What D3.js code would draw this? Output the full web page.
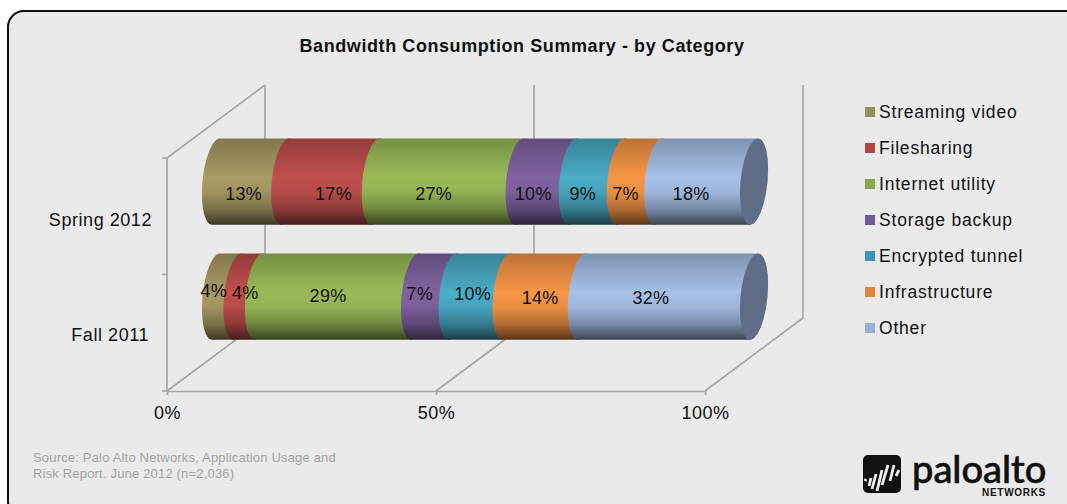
<!DOCTYPE html>
<html>
<head>
<meta charset="utf-8">
<script src="https://cdn.jsdelivr.net/npm/d3@7"></script>
<style>
  html, body { margin: 0; padding: 0; background: #fff; }
  svg { display: block; }
  text { font-family: "Liberation Sans", Arial, sans-serif; fill: #111; }
</style>
</head>
<body>
<svg id="chart" width="1067" height="504"></svg>
<script>
// Survey periods and bandwidth categories
const periods = ["Fall 2011", "Spring 2012"];
const categories = ["Streaming video", "Filesharing", "Internet utility", "Storage backup",
                    "Encrypted tunnel", "Infrastructure", "Other"];
const fall2011 = [4, 4, 29, 7, 10, 14, 32];
const spring2012 = [13, 17, 27, 10, 9, 7, 18];
const colors = ["#a99c65", "#c0504d", "#9bbb59", "#8064a2", "#4bacc6", "#f79646", "#a7c0e8"];
const legendColors = ["#98905a", "#b04744", "#8ba84f", "#73589a", "#4197b0", "#de853e", "#9bb0d6"];
const valueTicks = [0, 0.5, 1];

// Label nudges, by period and category: the percentages sit slightly off centre
const labelShiftFall = [-13, -3, -9, -14, -7, -4, -17];
const labelShiftSpring = [-7, 3, -14, -13, -14, -14, -15];
const labelDropFall = [-7, -5, -2, -4, -4, 0, 0];

const svg = d3.select("#chart");
const defs = svg.append("defs");

// Panel with a rounded outline that runs off the right and bottom edges
svg.append("rect").attr("x", 8).attr("y", 11).attr("width", 1110).attr("height", 506)
  .attr("rx", 16).attr("fill", "#eaeaea").attr("stroke", "#111").attr("stroke-width", 2);

svg.append("text").attr("x", 522).attr("y", 52).attr("text-anchor", "middle")
  .style("font-size", "18px").style("font-weight", "bold").style("letter-spacing", "0.58px")
  .text("Bandwidth Consumption Summary - by Category");

// Front plane of the 3D box, plus the depth vector toward its back plane
const floorY = 391, frontTop = 158, wallTop = 85;
const x = d3.scaleLinear().domain([0, 1]).range([167, 705]);
const y = d3.scaleBand().domain(periods).range([390.5, 160.5]).paddingInner(0.25).paddingOuter(0.125);
const depth = { dx: 98, dy: -73 };
const gridColor = "#a6a6a6";
const axisFont = '"Liberation Sans", Arial, sans-serif';

const grid = svg.append("g").attr("fill", "none").attr("stroke", gridColor).attr("stroke-width", 1.7);
valueTicks.forEach(t => {
  const fx = x(t), bx = fx + depth.dx, by = floorY + depth.dy;
  grid.append("path").attr("d", d3.line()([[fx, floorY], [bx, by], [bx, wallTop]]));
});
grid.append("path").attr("d", d3.line()([[x(0), frontTop], [x(0) + depth.dx, wallTop]]));

// Value axis along the front edge of the floor
const axisBottom = svg.append("g").attr("transform", `translate(0,${floorY})`)
  .call(d3.axisBottom(x).tickValues(valueTicks).tickFormat(d3.format(".0%")).tickSize(4).tickSizeOuter(0).tickPadding(11));
axisBottom.selectAll(".domain, line").attr("stroke", gridColor).attr("stroke-width", 1.7);
axisBottom.selectAll("text").style("font-size", "18px").style("letter-spacing", "0.5px")
  .style("font-family", axisFont).attr("fill", "#111");

// Category axis along the front left edge; ticks fall on the band boundaries
const axisLeft = svg.append("g").attr("transform", `translate(${x(0)},0)`)
  .call(d3.axisLeft(y).tickSize(0).tickPadding(15));
axisLeft.select(".domain").attr("stroke", "none");
axisLeft.selectAll("text").style("font-size", "18px").style("letter-spacing", "0.55px")
  .style("font-family", axisFont).attr("fill", "#111").attr("dy", "0.42em")
  .attr("dx", d => d === "Fall 2011" ? -3 : 0);
axisLeft.append("line").attr("y1", frontTop).attr("y2", floorY)
  .attr("stroke", gridColor).attr("stroke-width", 1.7);
const bounds = [floorY, (floorY + frontTop) / 2, frontTop];
axisLeft.selectAll("line.bound").data(bounds).join("line").attr("class", "bound")
  .attr("x1", -5).attr("x2", 0).attr("y1", d => d).attr("y2", d => d)
  .attr("stroke", gridColor).attr("stroke-width", 1.7);

// Cylinder gradient: dark rim, bright band just above the middle, dark underside
colors.forEach((c, i) => {
  const g = defs.append("linearGradient").attr("id", `cyl${i}`)
    .attr("x1", 0).attr("y1", 0).attr("x2", 0).attr("y2", 1);
  const base = d3.rgb(c);
  [[0, 0.76], [0.22, 0.88], [0.45, 1], [0.62, 0.95], [0.82, 0.72], [1, 0.36]].forEach(([o, k]) => {
    g.append("stop").attr("offset", o)
      .attr("stop-color", d3.rgb(base.r * k, base.g * k, base.b * k).formatHex());
  });
});

// Tilted ellipse outline of the cylinder's cross-section
const capRx = 13.5, capTilt = 4;
function arcPoints(cx, cy, ry, from, to) {
  return d3.range(0, 25).map(i => {
    const a = from + (to - from) * i / 24;
    return [cx + capRx * Math.cos(a) - capTilt * Math.sin(a), cy + ry * Math.sin(a)];
  });
}

const rows = [
  { period: "Fall 2011", values: fall2011, shift: labelShiftFall, drop: labelDropFall, base: 7 },
  { period: "Spring 2012", values: spring2012, shift: labelShiftSpring, drop: spring2012.map(() => 0), base: 18 }
];
const line = d3.line();
const bars = svg.append("g");
const barX = v => x(v) + depth.dx / 2;

// Each row is stacked to 100%, painted left to right so later pieces wrap over earlier ones
rows.forEach(row => {
  const total = d3.sum(row.values);
  const cum = d3.cumsum(row.values).map(v => v / total);
  const top = y(row.period) + depth.dy / 2;
  const h = y.bandwidth();
  const cy = top + h / 2;
  const g = bars.append("g");
  row.values.forEach((v, i) => {
    const x0 = barX(i ? cum[i - 1] : 0), x1 = barX(cum[i]);
    const pts = [...arcPoints(x1, cy, h / 2, -Math.PI / 2, Math.PI / 2),
                 ...arcPoints(x0, cy, h / 2, Math.PI / 2, 3 * Math.PI / 2)];
    g.append("path").attr("d", line(pts) + "Z").attr("fill", `url(#cyl${i})`);
  });
  const xEnd = barX(1);
  g.append("path")
    .attr("d", line(arcPoints(xEnd, cy, h / 2, 0, 2 * Math.PI)) + "Z")
    .attr("fill", "#5f6e86");
  row.values.forEach((v, i) => {
    const x0 = barX(i ? cum[i - 1] : 0), x1 = barX(cum[i]);
    g.append("text").attr("x", (x0 + x1) / 2 + row.shift[i]).attr("y", cy + row.base + row.drop[i])
      .attr("text-anchor", "middle").style("font-size", "18px").style("letter-spacing", "0.3px")
      .text(`${v}%`);
  });
});

// Legend
const legend = svg.append("g");
const legendY = d3.scalePoint().domain(categories).range([112, 328]);
categories.forEach((c, i) => {
  legend.append("rect").attr("x", 865).attr("y", legendY(c) - 5).attr("width", 10).attr("height", 10)
    .attr("fill", legendColors[i]);
  legend.append("text").attr("x", 879).attr("y", legendY(c) + 6)
    .style("font-size", "17.5px").style("letter-spacing", "0.8px").text(c);
});

// Source note
const note = svg.append("g").style("font-size", "13px").style("letter-spacing", "0.18px");
["Source: Palo Alto Networks, Application Usage and", "Risk Report. June 2012 (n=2,036)"].forEach((t, i) => {
  note.append("text").attr("x", 33).attr("y", 462 + i * 16).style("fill", "#a3a3a3").text(t);
});

// Company mark
const logo = svg.append("g");
logo.append("rect").attr("x", 863).attr("y", 455).attr("width", 38).attr("height", 38).attr("rx", 5).attr("fill", "#111");
[[866, 479, 865, 481], [871, 478, 869, 486], [876, 474, 872, 489], [882, 470, 877, 491],
 [888, 465, 882, 485], [894, 465, 890, 481], [899, 470, 896, 476]]
  .forEach(([a, b, c, d]) => {
    logo.append("line").attr("x1", a).attr("y1", b).attr("x2", c).attr("y2", d)
      .attr("stroke", "#eee").attr("stroke-width", 2.8);
  });
logo.append("text").attr("x", 912).attr("y", 483).style("font-family", "Lato, sans-serif")
  .style("font-size", "38px").style("font-weight", "500")
  .style("stroke", "#111").style("stroke-width", "0.6px").text("paloalto");
logo.append("text").attr("x", 1046).attr("y", 496).attr("text-anchor", "end")
  .style("font-size", "10px").style("font-weight", "bold").style("letter-spacing", "0.7px").text("NETWORKS");
</script>
</body>
</html>
